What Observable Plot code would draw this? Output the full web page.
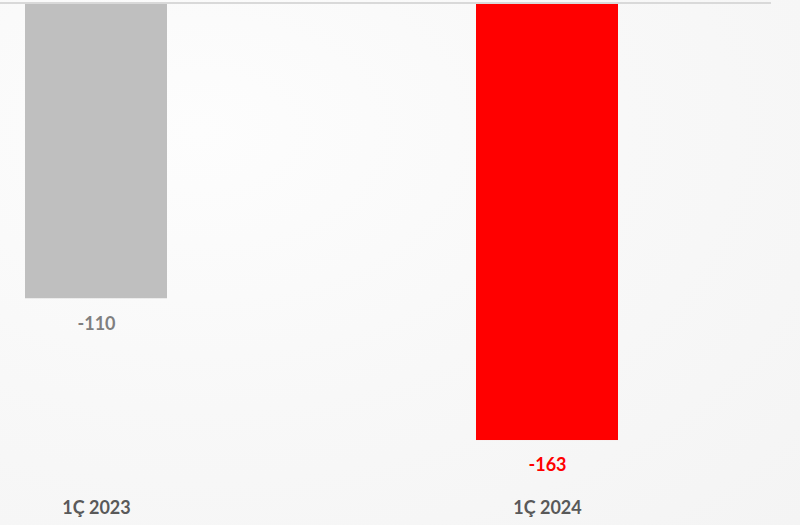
<!DOCTYPE html>
<html>
<head>
<meta charset="utf-8">
<script src="https://cdn.jsdelivr.net/npm/d3@7"></script>
<script src="https://cdn.jsdelivr.net/npm/@observablehq/plot@0.6"></script>
<style>
  html, body { margin: 0; padding: 0; background: #f7f7f7; }
  #chart { width: 800px; height: 525px; background: radial-gradient(ellipse at 25% 25%, #fdfdfd 0%, #f8f8f8 50%, #f4f4f4 100%); }
  svg { display: block; }
</style>
</head>
<body>
<div id="chart"></div>
<script>
const categories = ["1Ç 2023", "1Ç 2024"];
const values = [-110, -163];
const barColors = ["#bfbfbf", "#ff0000"];
const labelColors = ["#7f7f7f", "#ff0000"];

const data = categories.map((c, i) => ({cat: c, value: values[i], bar: barColors[i], lab: labelColors[i]}));

const chart = Plot.plot({
  width: 800,
  height: 525,
  marginTop: 4,
  marginBottom: 39.5,
  marginLeft: 0,
  marginRight: 29,
  style: {background: "transparent", fontFamily: "Lato, 'Open Sans', sans-serif"},
  x: {type: "band", domain: categories, paddingInner: 0.685, paddingOuter: 0.197, align: 0.14, axis: null},
  y: {domain: [-180, 0], axis: null},
  marks: [
    Plot.barY(data, {x: "cat", y: "value", fill: "bar"}),
    Plot.ruleY([0], {stroke: "#d9d9d9", strokeWidth: 2, dy: -1.5}),
    Plot.text(data, {x: "cat", y: "value", text: d => String(d.value), fill: "lab", dy: 25, fontSize: 18, fontWeight: "bold"}),
    Plot.text(data, {x: "cat", text: "cat", frameAnchor: "bottom", dy: 27.5, fill: "#595959", fontSize: 18, fontWeight: "bold"})
  ]
});
document.getElementById("chart").appendChild(chart);
</script>
</body>
</html>
